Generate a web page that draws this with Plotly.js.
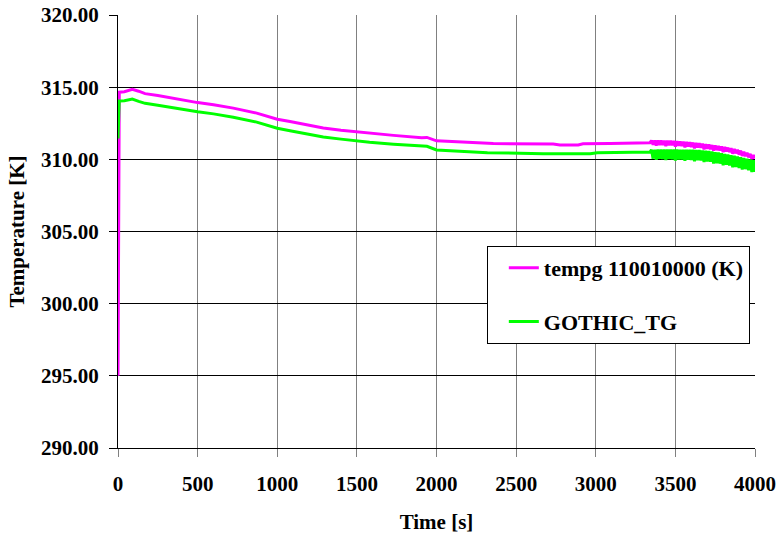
<!DOCTYPE html>
<html>
<head>
<meta charset="utf-8">
<script src="https://cdn.plot.ly/plotly-3.0.1.min.js"></script>
<style>
  html, body { margin: 0; padding: 0; background: #fff; }
  #chart { width: 780px; height: 535px; }
</style>
</head>
<body>
<div id="chart"></div>
<script>
// ---- data ----
const relapTime = [0, 8, 40, 70, 90, 130, 170, 250, 350, 452, 500, 600, 724, 871, 1000, 1080, 1200, 1289, 1400, 1500, 1580, 1730, 1907, 1940, 2000, 2148, 2357, 2733, 2775, 2890, 2920, 3090, 3200, 3300, 3340,
  3350, 3360, 3370, 3380, 3390, 3400, 3410, 3420, 3430, 3440, 3450, 3460, 3470, 3480, 3490, 3500,
  3510, 3520, 3530, 3540, 3550, 3560, 3570, 3580, 3590, 3600, 3610, 3620, 3630, 3640, 3650, 3660,
  3670, 3680, 3690, 3700, 3710, 3720, 3730, 3740, 3750, 3760, 3770, 3780, 3790, 3800, 3810, 3820,
  3830, 3840, 3850, 3860, 3870, 3880, 3890, 3900, 3910, 3920, 3930, 3940, 3950, 3960, 3970, 3980, 3990, 4000];
const relapTemp = [295.0, 314.65, 314.68, 314.8, 314.85, 314.72, 314.55, 314.42, 314.22, 314.0, 313.93, 313.78, 313.55, 313.2, 312.78, 312.62, 312.36, 312.17, 312.02, 311.9, 311.83, 311.66, 311.5, 311.52, 311.28, 311.18, 311.09, 311.06, 311.0, 311.0, 311.08, 311.09, 311.12, 311.14, 311.15,
  311.30, 311.02, 311.30, 310.96, 311.30, 311.00, 311.30, 311.00, 311.29, 310.92, 311.29, 310.98, 311.28, 310.97, 311.27, 310.88,
  311.26, 310.94, 311.24, 310.93, 311.22, 310.83, 311.20, 310.89, 311.18, 310.86, 311.16, 310.77, 311.13, 310.82, 311.11, 310.80,
  311.08, 310.70, 311.05, 310.73, 311.02, 310.70, 310.99, 310.60, 310.96, 310.64, 310.93, 310.61, 310.89, 310.50, 310.85, 310.54,
  310.81, 310.50, 310.77, 310.39, 310.72, 310.42, 310.66, 310.33, 310.60, 310.24, 310.53, 310.22, 310.45, 310.14, 310.38, 310.02, 310.29, 310.05];

const gothicTime = [0, 8, 40, 70, 90, 130, 170, 250, 350, 452, 500, 600, 724, 871, 1000, 1080, 1200, 1289, 1400, 1500, 1580, 1730, 1907, 1940, 2000, 2148, 2320, 2670, 2965, 3010, 3100, 3200, 3300, 3340,
  3350, 3360, 3370, 3380, 3390, 3400, 3410, 3420, 3430, 3440, 3450, 3460, 3470, 3480, 3490, 3500,
  3510, 3520, 3530, 3540, 3550, 3560, 3570, 3580, 3590, 3600, 3610, 3620, 3630, 3640, 3650, 3660,
  3670, 3680, 3690, 3700, 3710, 3720, 3730, 3740, 3750, 3760, 3770, 3780, 3790, 3800, 3810, 3820,
  3830, 3840, 3850, 3860, 3870, 3880, 3890, 3900, 3910, 3920, 3930, 3940, 3950, 3960, 3970, 3980, 3990, 4000];
const gothicTemp = [311.45, 314.05, 314.06, 314.15, 314.18, 314.02, 313.88, 313.75, 313.56, 313.37, 313.3, 313.15, 312.92, 312.58, 312.15, 311.98, 311.72, 311.55, 311.4, 311.27, 311.18, 311.05, 310.88, 310.9, 310.65, 310.55, 310.46, 310.39, 310.39, 310.46, 310.47, 310.5, 310.52, 310.5,
  310.66, 310.05, 310.67, 309.97, 310.68, 310.04, 310.68, 310.03, 310.68, 309.95, 310.68, 310.02, 310.68, 310.01, 310.68, 309.92,
  310.68, 309.99, 310.67, 309.98, 310.67, 309.90, 310.67, 309.97, 310.66, 309.96, 310.66, 309.87, 310.65, 309.94, 310.64, 309.92,
  310.62, 309.81, 310.60, 309.85, 310.58, 309.83, 310.55, 309.71, 310.50, 309.73, 310.47, 309.70, 310.43, 309.58, 310.38, 309.62,
  310.34, 309.57, 310.29, 309.45, 310.25, 309.47, 310.20, 309.40, 310.15, 309.30, 310.10, 309.32, 310.04, 309.24, 309.99, 309.12, 309.94, 309.13];

const relapName = "tempg 110010000 (K)";
const gothicName = "GOTHIC_TG";
const xTickVals = [0, 500, 1000, 1500, 2000, 2500, 3000, 3500, 4000];
const yTickVals = [290, 295, 300, 305, 310, 315, 320];
const xTitle = "Time [s]";
const yTitle = "Temperature [K]";

const fam = "Liberation Serif, Times New Roman, serif";
const boldFont = { family: fam, size: 21, color: "#000", weight: "bold" };
const legendFont = { family: fam, size: 22, color: "#000", weight: "bold" };

const traces = [
  { x: relapTime, y: relapTemp, name: relapName, type: "scatter", mode: "lines",
    line: { color: "#FF00FF", width: 3 }, legendgroup: "a" },
  { x: gothicTime, y: gothicTemp, name: gothicName, type: "scatter", mode: "lines",
    line: { color: "#00FF00", width: 3 }, legendgroup: "b" }
];

const layout = {
  width: 780, height: 535,
  margin: { l: 118, r: 25, t: 15, b: 87 },
  paper_bgcolor: "#fff", plot_bgcolor: "#fff",
  font: boldFont,
  showlegend: true,
  legend: {
    x: 0.579, y: 0.4665, xanchor: "left", yanchor: "top",
    bordercolor: "#000", borderwidth: 1, bgcolor: "#fff",
    font: legendFont, traceorder: "grouped", tracegroupgap: 22,
    indentation: 16
  },
  xaxis: {
    range: [0, 4000], tickvals: xTickVals, ticktext: xTickVals.map(String),
    showgrid: true, gridcolor: "#808080", gridwidth: 1,
    showline: true, linecolor: "#000", linewidth: 1,
    ticks: "outside", ticklen: 8, tickcolor: "#808080",
    tickfont: boldFont, zeroline: false, ticklabelstandoff: 9,
    title: { text: xTitle, font: boldFont, standoff: 19 }
  },
  yaxis: {
    range: [290, 320], tickvals: yTickVals, ticktext: yTickVals.map(v => v.toFixed(2)),
    showgrid: true, gridcolor: "#000", gridwidth: 1,
    showline: true, linecolor: "#000", linewidth: 1,
    ticks: "outside", ticklen: 8, tickcolor: "#000",
    tickfont: boldFont, zeroline: false, ticklabelstandoff: 6,
    title: { text: yTitle, font: boldFont, standoff: 10 }
  }
};

Plotly.newPlot("chart", traces, layout, { displayModeBar: false, staticPlot: true });
</script>
</body>
</html>
